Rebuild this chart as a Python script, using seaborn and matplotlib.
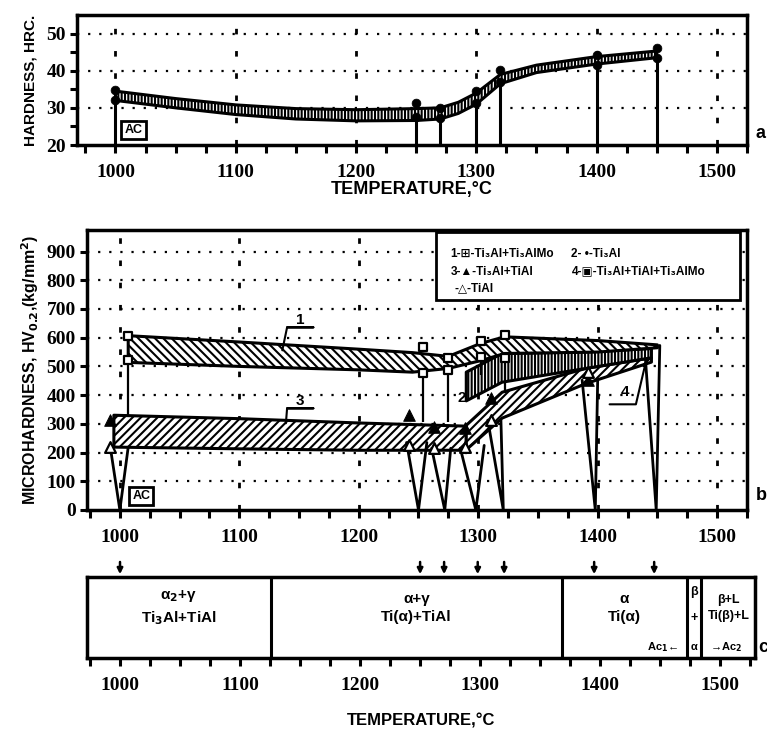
import matplotlib
matplotlib.use('Agg')
import matplotlib.pyplot as plt
import seaborn as sns
import pandas as pd

# ---- panel a: hardness HRC ----
hrc_temps = [1000, 1250, 1270, 1300, 1320, 1400, 1450]
hrc_high = [34.8, 31.3, 30.0, 34.6, 40.3, 44.3, 46.0]
hrc_low = [32.0, 27.6, 27.3, 31.3, 37.0, 41.6, 43.3]

band_a_t = [1000, 1050, 1100, 1150, 1200, 1250, 1270, 1285, 1300, 1320, 1350, 1400, 1450]
band_a_hi = [34.5, 32.5, 30.8, 29.8, 29.5, 29.8, 30.0, 31.5, 34.0, 39.0, 41.5, 43.8, 45.3]
band_a_lo = [32.0, 30.0, 28.2, 27.0, 26.5, 26.6, 27.0, 28.5, 31.0, 36.5, 39.5, 41.8, 43.5]

# ---- panel b: microhardness HV0.2 ----
band1_t = [1007, 1100, 1200, 1245, 1275, 1302, 1322, 1400, 1450]
band1_hi = [607, 585, 560, 548, 535, 580, 603, 590, 575]
band1_lo = [514, 500, 488, 480, 493, 520, 545, 550, 565]

band2_t = [1290, 1320, 1390, 1445]
band2_hi = [480, 545, 550, 562]
band2_lo = [380, 445, 493, 530]

band3_t = [995, 1100, 1200, 1290]
band3_hi = [330, 318, 303, 292]
band3_lo = [219, 213, 208, 208]

band4_t = [1290, 1320, 1390, 1445]
band4_hi = [295, 410, 493, 530]
band4_lo = [210, 320, 440, 515]

sq_t = [1007, 1254, 1275, 1302, 1322]
sq_hi = [607, 566, 528, 590, 608]
sq_lo = [521, 476, 486, 532, 528]
stem_b_end = [330, 306, 306, 470, 406]

tri_t = [992, 1242, 1263, 1289, 1311, 1392]
tri_filled = [313, 330, 289, 285, 389, 452]
tri_open = [219, 226, 215, 219, 313, 480]

v_base = [1000, 1250, 1272, 1298, 1321, 1398, 1449]
v_left_t = [992, 1240, 1261, 1285, 1308, 1387, 1440]
v_right_t = [1007, 1257, 1277, 1305, 1319, 1400, 1452]
v_left_top = [219, 235, 215, 215, 313, 452, 525]
v_right_top = [219, 235, 215, 225, 313, 452, 573]

# ---- panel c: phase regions ----
phase_edges = [1126, 1368, 1472, 1484]
arrow_temps = [1000, 1250, 1270, 1298, 1320, 1395, 1445]

FONT = ['Liberation Sans', 'DejaVu Sans']
NUM_FONT = ['Liberation Serif', 'DejaVu Serif']

sns.set_theme(style='white')
plt.rcParams['font.family'] = FONT
plt.rcParams['font.weight'] = 'bold'
plt.rcParams['axes.linewidth'] = 2.5
plt.rcParams['hatch.linewidth'] = 1.5
plt.rcParams['axes.edgecolor'] = 'black'
plt.rcParams['text.color'] = 'black'
plt.rcParams['axes.labelcolor'] = 'black'
plt.rcParams['xtick.color'] = 'black'
plt.rcParams['ytick.color'] = 'black'

fig = plt.figure(figsize=(7.67, 7.33), dpi=100)
ax_a = fig.add_axes([77 / 767, 1 - 145 / 733, 670 / 767, 130 / 733])
ax_b = fig.add_axes([87 / 767, 1 - 510 / 733, 660 / 767, 280 / 733])
ax_c = fig.add_axes([87 / 767, 1 - 658 / 733, 668 / 767, 81 / 733])


def num_labels(labels):
    for lab in labels:
        lab.set_family(NUM_FONT)
        lab.set_fontweight('bold')


def style_x(ax):
    ax.set_xticks(range(1000, 1501, 100))
    ax.set_xticks(range(975, 1526, 25), minor=True)
    ax.tick_params(axis='x', which='both', direction='out', length=6, width=2.2,
                   bottom=True, labelsize=14, pad=8)
    num_labels(ax.get_xticklabels())


def grid(ax, yvals, y0, y1):
    for y in yvals:
        ax.axhline(y, color='black', lw=1.6, ls=(0, (1, 4)), zorder=0)
    for x in range(1000, 1501, 100):
        ax.plot([x, x], [y0, y1], color='black', lw=2, ls=(0, (2, 6)), zorder=0)


# ---------- panel a ----------
ax = ax_a
ax.set_xlim(968, 1522)
ax.set_ylim(20, 55)
grid(ax, [30, 40, 50], 20, 55)
ax.fill_between(band_a_t, band_a_lo, band_a_hi, facecolor='white', edgecolor='black',
                hatch='|||||', lw=2.2, zorder=2)
ax.vlines(hrc_temps, 20, hrc_low, color='black', lw=2.2, zorder=3)
pts_a = pd.DataFrame({'t': hrc_temps * 2, 'v': hrc_high + hrc_low})
sns.scatterplot(data=pts_a, x='t', y='v', ax=ax, color='black', s=40,
                edgecolor='black', zorder=4, legend=False)
ax.set_yticks([20, 30, 40, 50])
ax.set_yticks(range(20, 55, 5), minor=True)
ax.tick_params(axis='y', which='both', direction='out', length=5, width=2.2,
               left=True, labelsize=14, pad=3)
num_labels(ax.get_yticklabels())
style_x(ax)
ax.set_xlabel('TEMPERATURE,°C', fontsize=13, fontweight='bold', labelpad=0)
ax.set_ylabel('HARDNESS, HRC.', fontsize=11, fontweight='bold', labelpad=6)
ax.text(1015, 24, 'AC', fontsize=9, fontweight='bold', ha='center', va='center',
        bbox=dict(boxstyle='square,pad=0.25', fc='white', ec='black', lw=2))
fig.text(0.985, 1 - 133 / 733, 'a', fontsize=13, fontweight='bold', va='center')

# ---------- panel b ----------
ax = ax_b
ax.set_xlim(972.5, 1522.5)
ax.set_ylim(0, 975)
grid(ax, range(100, 1000, 100), 0, 975)
kw = dict(facecolor='white', edgecolor='black', lw=2.2, zorder=2)
ax.fill_between(band3_t, band3_lo, band3_hi, hatch='////', **kw)
ax.fill_between(band4_t, band4_lo, band4_hi, hatch='////', **kw)
ax.fill_between(band2_t, band2_lo, band2_hi, hatch='|||||', **kw)
ax.fill_between(band1_t, band1_lo, band1_hi, hatch='\\\\\\\\', **kw)
for x0, x1, xb, y0, y1 in zip(v_left_t, v_right_t, v_base, v_left_top, v_right_top):
    ax.plot([x0, xb, x1], [y0, 0, y1], color='black', lw=2, zorder=3)
ax.vlines(sq_t, stem_b_end, sq_lo, color='black', lw=1.6, zorder=3)
sq = pd.DataFrame({'t': sq_t * 2, 'v': sq_hi + sq_lo})
sns.scatterplot(data=sq, x='t', y='v', ax=ax, marker='s', s=40, color='white',
                edgecolor='black', linewidth=1.6, zorder=5, legend=False)
sns.scatterplot(x=tri_t, y=tri_filled, ax=ax, marker='^', s=70, color='black',
                edgecolor='black', zorder=5, legend=False)
sns.scatterplot(x=tri_t, y=tri_open, ax=ax, marker='^', s=60, color='white',
                edgecolor='black', linewidth=1.6, zorder=5, legend=False)
ax.set_yticks(range(0, 901, 100))
ax.tick_params(axis='y', direction='out', length=5, width=2.2, left=True,
               labelsize=14, pad=3)
num_labels(ax.get_yticklabels())
style_x(ax)
ax.set_xlabel('')
ax.set_ylabel('MICROHARDNESS, HV$_{0.2}$,(kg/mm$^2$)', fontsize=11.5,
              fontweight='bold', labelpad=4)
ax.text(1018, 48, 'AC', fontsize=9, fontweight='bold', ha='center', va='center',
        bbox=dict(boxstyle='square,pad=0.25', fc='white', ec='black', lw=2))
# curve labels with leaders
for txt, tx, ty, lx, ly in [('1', 1151, 636, 1136, 556), ('3', 1151, 354, 1139, 302)]:
    ax.text(tx, ty, txt, fontsize=11, fontweight='bold', ha='center', va='bottom')
    ax.plot([1140, 1162, 1140, lx], [ty, ty, ty, ly], color='black', lw=1.5, zorder=6)
ax.text(1286, 389, '2', fontsize=11, fontweight='bold', ha='center', va='center', zorder=6)
ax.text(1423, 385, '4', fontsize=11, fontweight='bold', ha='center', va='bottom', zorder=6)
ax.plot([1410, 1432, 1440], [368, 368, 510], color='black', lw=1.5, zorder=6)
legend_rows = [('1-⊞-Ti₃Al+Ti₃AlMo', 1277, 893), ('2- •-Ti₃Al', 1378, 893),
               ('3-▲-Ti₃Al+TiAl', 1277, 830), ('4-▣-Ti₃Al+TiAl+Ti₃AlMo', 1378, 830),
               ('-△-TiAl', 1280, 771)]
ax.add_patch(plt.Rectangle((1265, 732), 254, 236, fc='white', ec='black', lw=2, zorder=6))
for txt, tx, ty in legend_rows:
    ax.text(tx, ty, txt, fontsize=8.5, fontweight='bold', va='center', zorder=7)
fig.text(0.985, 1 - 495 / 733, 'b', fontsize=13, fontweight='bold', va='center')

# ---------- panel c ----------
ax = ax_c
ax.set_xlim(972.5, 1529)
ax.set_ylim(0, 1)
ax.set_yticks([])
style_x(ax)
for e in phase_edges:
    ax.axvline(e, color='black', lw=2.2)
ax.set_xlabel('TEMPERATURE,°C', fontsize=12, fontweight='bold', labelpad=14)
phase_text = [(1049, 'α$_2$+γ\nTi$_3$Al+TiAl', 11), (1247, 'α+γ\nTi(α)+TiAl', 11),
              (1420, 'α\nTi(α)', 11), (1507, 'β+L\nTi(β)+L', 9)]
for x, t, fs in phase_text:
    ax.text(x, 0.62, t, fontsize=fs, fontweight='bold', ha='center', va='center',
            linespacing=1.4, clip_on=True)
ax.text(1478, 0.82, 'β', fontsize=9, fontweight='bold', ha='center', va='center')
ax.text(1478, 0.50, '+', fontsize=9, fontweight='bold', ha='center', va='center')
ax.text(1452, 0.14, 'Ac$_1$←', fontsize=8, fontweight='bold', ha='center', va='center')
ax.text(1478, 0.14, 'α', fontsize=8, fontweight='bold', ha='center', va='center')
ax.text(1505, 0.14, '→Ac$_2$', fontsize=8, fontweight='bold', ha='center', va='center')
for t in arrow_temps:
    ax.annotate('', xy=(t, 1.0), xytext=(t, 1.22), xycoords=('data', 'axes fraction'),
                textcoords=('data', 'axes fraction'),
                arrowprops=dict(arrowstyle='-|>', color='black', lw=1.8,
                                mutation_scale=8))
fig.text(0.988, 1 - 648 / 733, 'c', fontsize=13, fontweight='bold', va='center')

fig.savefig('out.png', dpi=100)
